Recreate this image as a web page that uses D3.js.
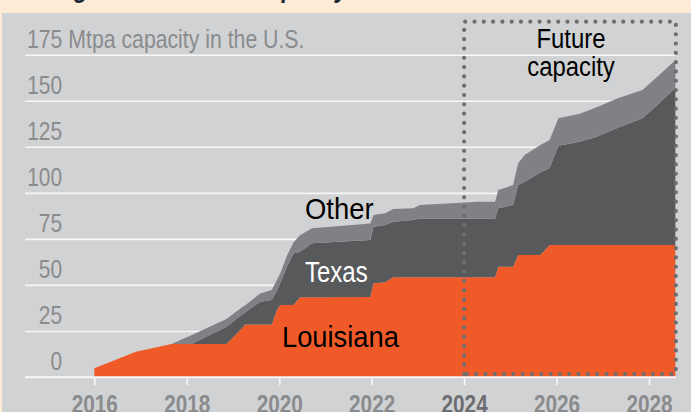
<!DOCTYPE html>
<html>
<head>
<meta charset="utf-8">
<script src="https://d3js.org/d3.v7.min.js"></script>
<style>
  html, body { margin: 0; padding: 0; background: #fdebd5; }
  svg { display: block; }
  text { font-family: "Liberation Sans", Arial, sans-serif; }
</style>
</head>
<body>
<div id="chart"></div>
<script>
// capacity in Mtpa (layer thickness per state)
const years = [2016.00, 2016.90, 2017.67, 2018.10, 2018.86, 2019.19, 2019.26, 2019.59, 2019.84, 2019.95,
  2020.02, 2020.17, 2020.31, 2020.45, 2020.71, 2021.97, 2022.04, 2022.29, 2022.47, 2022.90,
  2023.05, 2024.30, 2024.67, 2024.74, 2025.06, 2025.17, 2025.31, 2025.65, 2025.85, 2026.04,
  2026.50, 2026.87, 2027.34, 2027.86, 2028.22, 2028.57];
const louisiana = [4.7, 13.7, 17.9, 17.9, 17.9, 26.4, 28.5, 28.5, 28.5, 36.4,
  39.1, 39.1, 39.1, 43.3, 43.3, 43.5, 50.9, 51.5, 54.1, 54.1,
  54.1, 54.1, 54.1, 59.9, 59.9, 66.2, 66.2, 66.2, 71.7, 71.7,
  71.7, 71.7, 71.7, 71.7, 71.7, 71.7];
const texas = [0, 0, 0, 0, 9.4, 7.4, 6.5, 12.4, 13.3, 10.6,
  11.8, 20.9, 27.9, 24.7, 29.3, 30.9, 30.7, 31.0, 30.2, 31.1,
  32.0, 32.0, 32.0, 31.7, 33.5, 38.0, 39.8, 44.8, 41.8, 53.8,
  56.0, 58.8, 63.8, 68.8, 76.9, 85.3];
const other = [0, 0, 0, 4.8, 4.2, 3.9, 3.8, 4.5, 5.4, 5.7,
  5.1, 6.0, 6.0, 9.0, 8.1, 9.0, 6.3, 6.4, 6.9, 6.4,
  7.3, 9.1, 9.1, 9.9, 10.8, 11.8, 14.5, 15.0, 15.2, 15.0,
  15.3, 16.0, 16.0, 15.3, 15.4, 15.0];

const yTicks = [0, 25, 50, 75, 100, 125, 150, 175];
const xTicks = [2016, 2018, 2020, 2022, 2024, 2026, 2028];
const futureStart = 2024;
const seriesKeys = ['louisiana', 'texas', 'other'];
const seriesColors = {louisiana: '#f05a28', texas: '#58595b', other: '#808184'};

const width = 691, height = 412;
const svg = d3.select('#chart').append('svg').attr('width', width).attr('height', height);

// condensed look: squeeze regular glyphs horizontally
function squeeze(sel, dx, dy, sx) {
  sel.attr('x', 0).attr('y', 0).attr('dy', 0)
    .attr('transform', `translate(${dx},${dy}) scale(${sx},1)`);
}

// headline, mostly cut off by the panel
const head = svg.append('g').attr('fill', '#1c2a36')
  .style('font-size', '27px').style('font-weight', 'bold').style('font-style', 'italic');
head.append('text').attr('text-anchor', 'end').text('Rising').call(squeeze, 88, -3.5, 0.85);
head.append('text').attr('text-anchor', 'end').text('U.S. LNG capacity').call(squeeze, 348, -3.5, 0.85);

svg.append('rect').attr('x', 2).attr('y', 13).attr('width', width - 2).attr('height', height - 13)
  .attr('fill', '#d1d2d4');

const x = d3.scaleLinear().domain([2016, 2028]).range([94.3, 649]);
const y = d3.scaleLinear().domain([0, 175]).range([377, 54.7]);

// y gridlines + labels sitting above them
const yAxis = svg.append('g')
  .attr('transform', 'translate(25,0)')
  .call(d3.axisRight(y).tickValues(yTicks).tickSize(651)
    .tickFormat(d => d === 175 ? '175 Mtpa capacity in the U.S.' : d));
yAxis.select('.domain').remove();
yAxis.selectAll('line').attr('stroke', '#f7f7f7').attr('stroke-width', 1.6);
yAxis.selectAll('text')
  .attr('text-anchor', 'end')
  .attr('fill', '#8a8b8d')
  .style('font-size', '25px')
  .call(squeeze, 37, -7.5, 0.835);
yAxis.selectAll('.tick').filter(d => d === 175).select('text')
  .attr('text-anchor', 'start')
  .call(squeeze, 2, -7.5, 0.85);

// stacked areas
const table = years.map((yr, i) => ({year: yr, louisiana: louisiana[i], texas: texas[i], other: other[i]}));
const stacked = d3.stack().keys(seriesKeys)(table);
const area = d3.area()
  .x(d => x(d.data.year))
  .y0(d => y(d[0]))
  .y1(d => y(d[1]));

svg.append('g').selectAll('path')
  .data(stacked)
  .join('path')
  .attr('fill', d => seriesColors[d.key])
  .attr('d', area);

// x axis
const xAxis = svg.append('g')
  .attr('transform', `translate(0,${y(0)})`)
  .call(d3.axisBottom(x).tickValues(xTicks).tickFormat(d3.format('d')).tickSize(8));
xAxis.select('.domain').remove();
xAxis.selectAll('line').attr('stroke', '#f7f7f7').attr('stroke-width', 1.6);
xAxis.selectAll('text')
  .attr('fill', d => d === futureStart ? '#6d6e70' : '#8a8b8d')
  .style('font-size', '25px').style('font-weight', 'bold')
  .call(squeeze, 0, 36, 0.83);
svg.append('line')
  .attr('x1', 25).attr('x2', 676).attr('y1', y(0)).attr('y2', y(0))
  .attr('stroke', '#f7f7f7').attr('stroke-width', 1.6);

// dotted "future" box
const bx0 = x(futureStart), bx1 = x(years[years.length - 1]) + 0.5;
const by0 = 21.7, by1 = y(0) - 3;
svg.append('path')
  .attr('d', `M${bx0},${by1}V${by0}H${bx1}V${by1}Z`)
  .attr('fill', 'none')
  .attr('stroke', '#6d6e70')
  .attr('stroke-width', 4.2)
  .attr('stroke-linecap', 'round')
  .attr('stroke-dasharray', '0 9.3');

// labels
const labels = [
  {text: 'Other', x: 305, y: 218.5, fill: '#000', anchor: 'start', size: 29.5, sx: 0.93},
  {text: 'Texas', x: 305, y: 281.5, fill: '#fff', anchor: 'start', size: 30, sx: 0.8},
  {text: 'Louisiana', x: 282, y: 346.5, fill: '#000', anchor: 'start', size: 30, sx: 0.91},
  {text: 'Future', x: 571, y: 48, fill: '#000', anchor: 'middle', size: 27, sx: 0.885},
  {text: 'capacity', x: 571, y: 76, fill: '#000', anchor: 'middle', size: 27, sx: 0.885}
];
svg.append('g').selectAll('text')
  .data(labels)
  .join('text')
  .attr('text-anchor', d => d.anchor)
  .attr('fill', d => d.fill)
  .style('font-size', d => d.size + 'px')
  .attr('transform', d => `translate(${d.x},${d.y}) scale(${d.sx},1)`)
  .text(d => d.text);
</script>
</body>
</html>
